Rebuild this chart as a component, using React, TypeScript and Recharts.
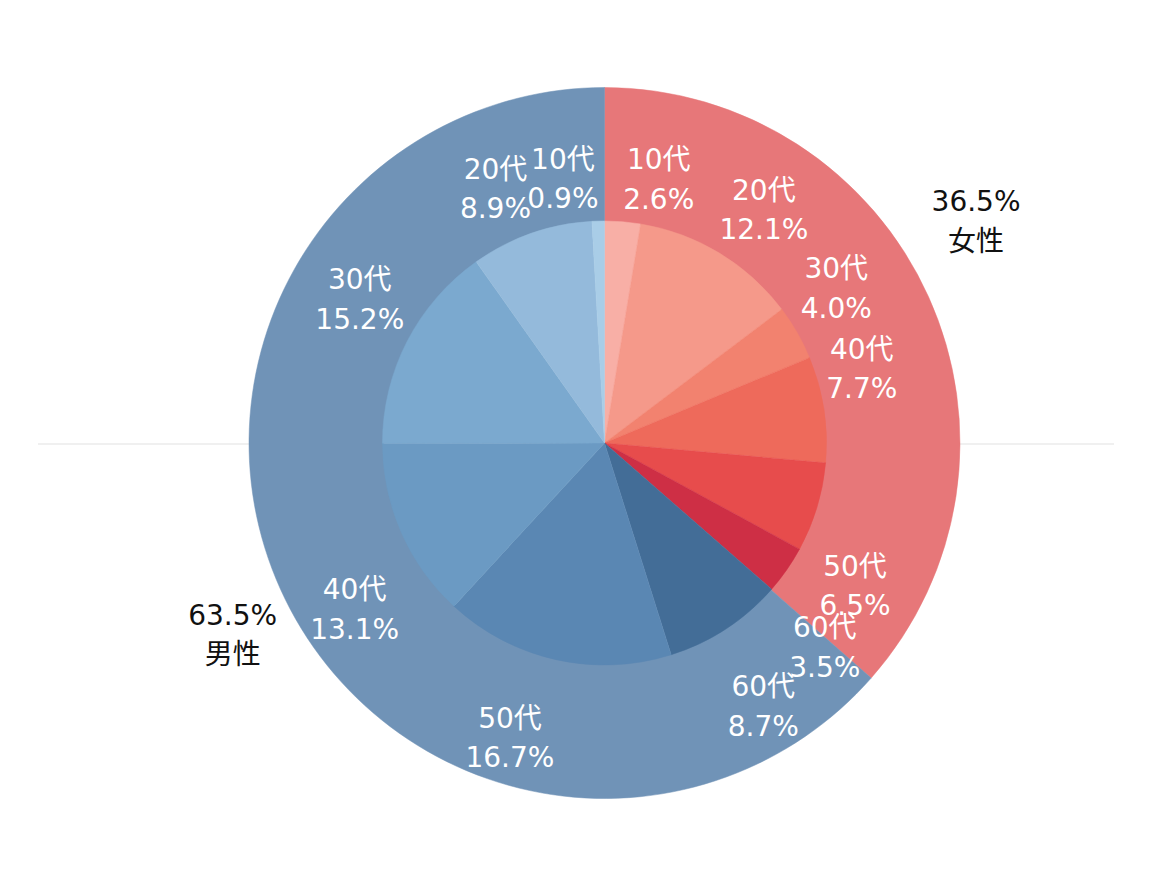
import React from 'react';
import { PieChart, Pie, Cell } from 'recharts';

// ---- data ----
const genders = ['女性', '男性'];
const genderValues = [36.5, 63.5];

const femaleAges = ['10代', '20代', '30代', '40代', '50代', '60代'];
const femaleValues = [2.6, 12.1, 4.0, 7.7, 6.5, 3.5];

const maleAges = ['60代', '50代', '40代', '30代', '20代', '10代'];
const maleValues = [8.7, 16.7, 13.1, 15.2, 8.9, 0.9];

// ---- styles ----
const genderColors = ['#E77779', '#7093B7'];
const femaleColors = ['#F8AFA6', '#F5998A', '#F2826F', '#EE6A5B', '#E74C4C', '#CE2F45'];
const maleColors = ['#436D97', '#5A87B3', '#6B9AC3', '#7BA9CF', '#94BADB', '#A9CDE7'];

// label placement: angle shift (deg, clockwise) and radius
const innerLabelLayout = [
  { d: 6.9, r: 270 },
  { d: 3.1, r: 283 },
  { d: -4.0, r: 279 },
  { d: -7.5, r: 268 },
  { d: 12.7, r: 288 },
  { d: 7.9, r: 300 },
  { d: 2.0, r: 307 },
  { d: 5.2, r: 309 },
  { d: -9.9, r: 300 },
  { d: 3.2, r: 284 },
  { d: -3.9, r: 277 },
  { d: -7.3, r: 268 },
];
const outerLabelLayout = [
  { d: -6.6, r: 433 },
  { d: -2.9, r: 418 },
];

const FONT = '"DejaVu Sans", "Noto Sans CJK JP", sans-serif';
const FONT_SIZE = 28;
const RAD = Math.PI / 180;

const genderData = genders.map((g, i) => ({ name: g, value: genderValues[i] }));
const ageData = [
  ...femaleAges.map((a, i) => ({ name: a, value: femaleValues[i] })),
  ...maleAges.map((a, i) => ({ name: a, value: maleValues[i] })),
];
const ageColors = [...femaleColors, ...maleColors];

function twoLineLabel(x: number, y: number, l1: string, l2: string, fill: string, key: any) {
  return (
    <text
      key={key}
      x={x}
      y={y}
      textAnchor="middle"
      fill={fill}
      fontFamily={FONT}
      fontSize={FONT_SIZE}
    >
      <tspan x={x} y={y - 9.5}>{l1}</tspan>
      <tspan x={x} y={y + 30}>{l2}</tspan>
    </text>
  );
}

const renderInnerLabel = (props: any) => {
  const { cx, cy, midAngle, index, name, value } = props;
  const lay = innerLabelLayout[index] || { d: 0, r: 285 };
  const a = midAngle - lay.d;
  const x = cx + lay.r * Math.cos(-a * RAD);
  const y = cy + lay.r * Math.sin(-a * RAD);
  return twoLineLabel(x, y, name, `${Number(value).toFixed(1)}%`, '#FFFFFF', `il-${index}`);
};

const renderOuterLabel = (props: any) => {
  const { cx, cy, midAngle, index, name, value } = props;
  const lay = outerLabelLayout[index] || { d: 0, r: 425 };
  const a = midAngle - lay.d;
  const x = cx + lay.r * Math.cos(-a * RAD);
  const y = cy + lay.r * Math.sin(-a * RAD);
  return twoLineLabel(x, y, `${Number(value).toFixed(1)}%`, name, '#111111', `ol-${index}`);
};

export default function App() {
  return (
    <div style={{ position: 'absolute', left: 0, top: 0, width: 1152, height: 880, background: '#fff' }}>
      <div
        style={{
          position: 'absolute',
          left: 38,
          top: 443,
          width: 1076,
          height: 2,
          background: '#F0F0F0',
        }}
      />
      <div style={{ position: 'absolute', left: 0, top: 0 }}>
        <PieChart width={1152} height={880} margin={{ top: 0, right: 0, bottom: 0, left: 0 }}>
          <Pie
            data={genderData}
            dataKey="value"
            nameKey="name"
            cx={604.5}
            cy={443}
            innerRadius={221}
            outerRadius={355.5}
            startAngle={90}
            endAngle={-270}
            isAnimationActive={false}
            label={renderOuterLabel}
            labelLine={false}
          >
            {genderData.map((d, i) => (
              <Cell key={`g-${i}`} fill={genderColors[i]} stroke={genderColors[i]} strokeWidth={0.5} />
            ))}
          </Pie>
          <Pie
            data={ageData}
            dataKey="value"
            nameKey="name"
            cx={604.5}
            cy={443}
            innerRadius={0}
            outerRadius={222}
            startAngle={90}
            endAngle={-270}
            isAnimationActive={false}
            label={renderInnerLabel}
            labelLine={false}
          >
            {ageData.map((d, i) => (
              <Cell key={`a-${i}`} fill={ageColors[i]} stroke={ageColors[i]} strokeWidth={0.5} />
            ))}
          </Pie>
        </PieChart>
      </div>
    </div>
  );
}
